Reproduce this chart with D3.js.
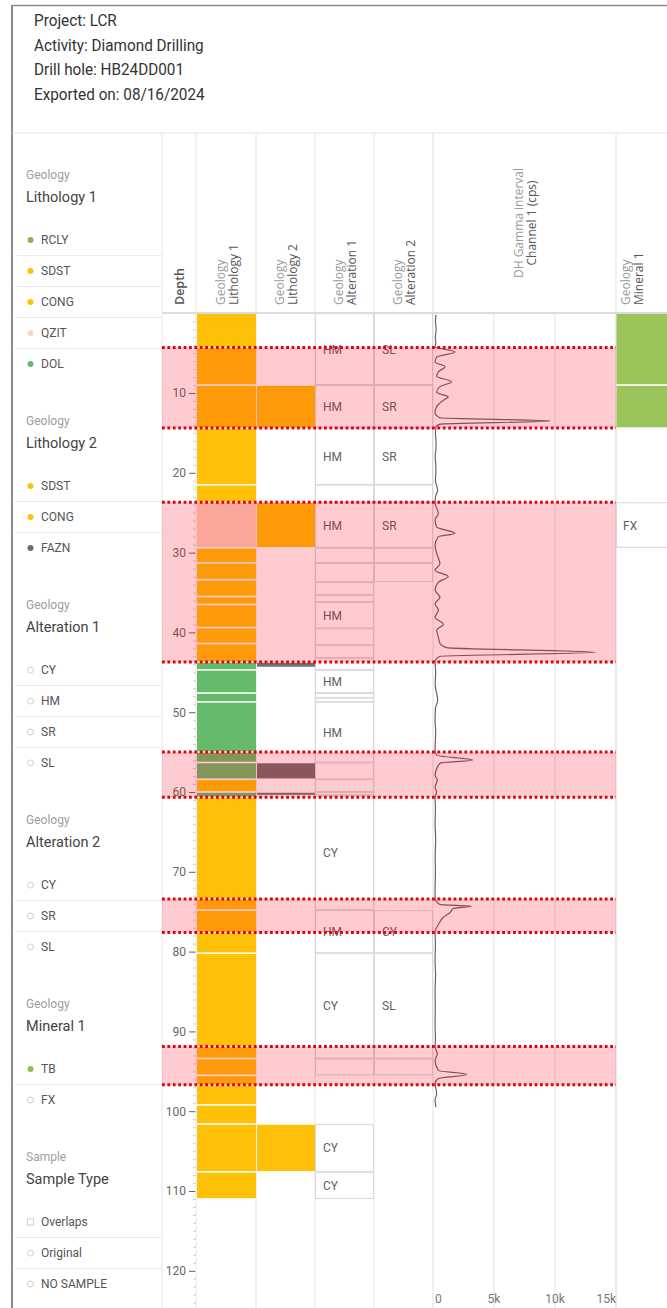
<!DOCTYPE html>
<html>
<head>
<meta charset="utf-8">
<script src="https://cdn.jsdelivr.net/npm/d3@7"></script>
<style>
html, body { margin: 0; padding: 0; background: #fff; }
svg { display: block; font-family: Roboto, "Noto Sans", sans-serif; }
</style>
</head>
<body>
<svg id="chart" width="667" height="1308"></svg>
<script>
// ---- report header ----
const headerLines = ["Project: LCR", "Activity: Diamond Drilling", "Drill hole: HB24DD001", "Exported on: 08/16/2024"];

// ---- column titles (category, name) ----
const columnKeys = ["depth", "lith1", "lith2", "alt1", "alt2", "gamma", "min1"];
const columnCategory = ["", "Geology", "Geology", "Geology", "Geology", "DH Gamma interval", "Geology"];
const columnName = ["Depth", "Lithology 1", "Lithology 2", "Alteration 1", "Alteration 2", "Channel 1 (cps)", "Mineral 1"];

// ---- code colours ----
const lithCodes = ["RCLY", "SDST", "CONG", "QZIT", "DOL", "FAZN"];
const lithColors = ["#a3a858", "#ffc107", "#ffc107", "#f9cfb8", "#66bb6a", "#6e6e6e"];
const mineralCodes = ["TB", "FX"];
const mineralColors = ["#9bc45a", null];

// ---- interval logs: [from m, to m, code] ----
const lith1 = [
  [0, 4.3, "SDST"], [4.3, 9.0, "SDST"], [9.0, 14.4, "SDST"], [14.4, 21.5, "SDST"],
  [21.5, 23.7, "SDST"], [23.7, 29.4, "QZIT"], [29.4, 31.3, "SDST"], [31.3, 33.4, "SDST"],
  [33.4, 35.5, "SDST"], [35.5, 36.5, "SDST"], [36.5, 39.4, "SDST"], [39.4, 41.4, "SDST"],
  [41.4, 43.7, "SDST"], [43.7, 44.7, "DOL"], [44.7, 47.6, "DOL"], [47.6, 48.7, "DOL"],
  [48.7, 55.0, "DOL"], [55.0, 56.3, "DOL"], [56.3, 58.4, "DOL"], [58.4, 60.0, "SDST"],
  [60.0, 60.65, "DOL"], [60.65, 73.4, "SDST"], [73.4, 74.8, "SDST"], [74.8, 77.6, "SDST"],
  [77.6, 80.2, "SDST"], [80.2, 91.9, "SDST"], [91.9, 93.4, "SDST"], [93.4, 95.5, "SDST"],
  [95.5, 96.7, "SDST"], [96.7, 99.2, "SDST"], [99.2, 101.6, "SDST"], [101.6, 107.6, "SDST"],
  [107.6, 111.0, "SDST"]
];
const lith2 = [
  [9.0, 14.4, "SDST"], [23.7, 29.4, "SDST"], [43.7, 44.4, "FAZN"],
  [56.3, 58.4, "FAZN"], [60.0, 60.45, "FAZN"], [101.6, 107.6, "SDST"]
];
const alt1 = [
  [0, 9.0, "HM"], [9.0, 14.4, "HM"], [14.4, 21.5, "HM"], [21.5, 23.7, ""],
  [23.7, 29.4, "HM"], [29.4, 31.3, ""], [31.3, 33.7, ""], [33.7, 35.3, ""],
  [35.3, 36.2, ""], [36.2, 39.5, "HM"], [39.5, 41.6, ""], [41.6, 43.2, ""],
  [43.2, 44.7, ""], [44.7, 47.6, "HM"], [47.6, 48.2, ""], [48.2, 48.7, ""],
  [48.7, 56.3, "HM"], [56.3, 58.4, ""], [58.4, 60.0, ""], [60.0, 60.4, ""],
  [60.4, 74.8, "CY"], [74.8, 80.2, "HM"], [80.2, 93.4, "CY"], [93.4, 95.5, ""],
  [101.6, 107.6, "CY"], [107.6, 111.0, "CY"]
];
const alt2 = [
  [0, 9.0, "SL"], [9.0, 14.4, "SR"], [14.4, 21.5, "SR"], [21.5, 23.7, ""],
  [23.7, 29.4, "SR"], [29.4, 31.3, ""], [31.3, 33.7, ""],
  [74.8, 80.2, "CY"], [80.2, 93.4, "SL"], [93.4, 95.5, ""]
];
const mineral1 = [[0, 9.0, "TB"], [9.0, 14.4, "TB"], [23.7, 29.4, "FX"]];

// ---- highlighted gamma anomaly intervals [from, to] ----
const anomalies = [[4.3, 14.4], [23.7, 43.7], [55.0, 60.65], [73.4, 77.6], [91.9, 96.7]];

// ---- downhole gamma, channel 1 ----
const gammaDepth = [0.2, 1.0, 2.0, 3.0, 3.8, 4.2, 4.85, 5.5, 6.1, 6.7, 7.35, 7.9, 8.6, 9.2, 9.9, 10.5, 10.9, 11.7, 12.5, 13.1, 13.5, 13.9, 14.25,
  15.0, 16.5, 18.0, 19.5, 21.0, 22.2, 23.0, 23.8, 25.1, 25.9, 26.8, 27.6, 28.0, 29.1, 30.1, 31.4, 32.2, 33.0, 33.7, 34.7, 35.6, 36.4, 37.2,
  38.1, 39.0, 39.7, 40.6, 41.4, 41.9, 42.5, 43.0, 43.7, 45.0, 46.5, 48.5, 49.5, 51.0, 52.5, 54.0, 54.8, 55.4, 56.0, 56.4, 57.1, 57.9,
  58.5, 59.4, 60.0, 60.6, 62.0, 64.0, 66.0, 68.0, 70.0, 72.0, 73.3, 74.1, 74.3, 74.6, 75.1, 75.7, 76.6, 77.5, 79.0, 81.0, 83.0, 85.0,
  87.0, 89.0, 91.0, 91.9, 92.8, 93.6, 94.9, 95.4, 95.9, 96.5, 97.8, 98.6, 99.5];
const gammaCps = [240, 200, 260, 190, 230, 170, 1800, 300, 170, 980, 440, 300, 1530, 570, 300, 1250, 850, 300, 170, 570, 9600, 570, 250,
  200, 260, 180, 240, 200, 380, 200, 170, 440, 170, 300, 1800, 440, 170, 300, 570, 170, 1250, 440, 170, 570, 170, 440,
  170, 850, 300, 440, 570, 1100, 13300, 570, 170, 220, 180, 380, 200, 170, 220, 180, 170, 300, 3250, 570, 300, 170,
  350, 170, 300, 170, 200, 170, 220, 180, 200, 170, 170, 570, 3170, 1670, 1400, 850, 440, 170, 200, 170, 210, 170,
  190, 170, 200, 170, 350, 170, 440, 2760, 440, 170, 300, 170, 250];
const gammaTicks = [0, 5000, 10000, 15000];

// ---- legend ----
const legendCategory = ["Geology", "Geology", "Geology", "Geology", "Geology", "Sample"];
const legendTitle = ["Lithology 1", "Lithology 2", "Alteration 1", "Alteration 2", "Mineral 1", "Sample Type"];
const legendItems = [
  ["RCLY", "SDST", "CONG", "QZIT", "DOL"],
  ["SDST", "CONG", "FAZN"],
  ["CY", "HM", "SR", "SL"],
  ["CY", "SR", "SL"],
  ["TB", "FX"],
  ["Overlaps", "Original", "NO SAMPLE"]
];
const legendColors = [
  ["#a3a858", "#ffc107", "#ffc107", "#f9d5c3", "#66bb6a"],
  ["#ffc107", "#ffc107", "#6e6e6e"],
  [null, null, null, null],
  [null, null, null],
  ["#8bc34a", null],
  ["square", null, null]
];

// ===================== drawing =====================
const svg = d3.select("#chart");
const W = 667, H = 1308;

const cols = {
  depth: [162, 196], lith1: [196, 256], lith2: [256, 315], alt1: [315, 374],
  alt2: [374, 433], gamma: [433, 616], min1: [616, 720]
};
const headTop = 133, headBottom = 313;

const y = d3.scaleLinear().domain([0, 125]).range([313.2, 313.2 + 125 * 7.98]);
const x = d3.scaleLinear().domain([0, 15000]).range([433, 616]);
const lithColor = d3.scaleOrdinal().domain(lithCodes).range(lithColors);
const minColor = d3.scaleOrdinal().domain(mineralCodes).range(mineralColors);

// report header text
const hdr = svg.append("g").attr("transform", "translate(34,0) scale(0.9,1)");
hdr.selectAll("text").data(headerLines).join("text")
  .attr("x", 0).attr("y", (d, i) => 26 + i * 24.6)
  .attr("font-size", 17).attr("fill", "#333").text(d => d);

// frame lines
svg.append("line").attr("x1", 12).attr("x2", W).attr("y1", 5.5).attr("y2", 5.5)
  .attr("stroke", "#8a8a8a").attr("stroke-width", 1.6);
svg.append("line").attr("x1", 12).attr("x2", 12).attr("y1", 5).attr("y2", H)
  .attr("stroke", "#8a8a8a").attr("stroke-width", 2);
svg.append("line").attr("x1", 12).attr("x2", W).attr("y1", headTop).attr("y2", headTop)
  .attr("stroke", "#e3e3e3").attr("stroke-width", 1);

// column separators
const sepX = [162, 196, 256, 315, 374, 616];
svg.append("g").selectAll("line").data(sepX).join("line")
  .attr("x1", d => d).attr("x2", d => d).attr("y1", headTop).attr("y2", H)
  .attr("stroke", "#e6e6e6").attr("stroke-width", 1);

// gamma gridlines
svg.append("g").selectAll("line").data(gammaTicks).join("line")
  .attr("x1", d => x(d)).attr("x2", d => x(d))
  .attr("y1", d => d === 0 ? headTop : headBottom).attr("y2", H)
  .attr("stroke", "#e6e6e6").attr("stroke-width", 1.2);

// header bottom rule
svg.append("line").attr("x1", 162).attr("x2", W).attr("y1", headBottom).attr("y2", headBottom)
  .attr("stroke", "#dcdcdc").attr("stroke-width", 2);

// column headers (rotated)
const headG = svg.append("g").attr("font-family", "'Open Sans', 'DejaVu Sans', sans-serif");
columnKeys.forEach((k, i) => {
  const [a, b] = cols[k];
  const cx = k === "min1" ? 631 : (a + b) / 2;
  const isGamma = k === "gamma";
  const yPos = isGamma ? (headTop + headBottom) / 2 : 305;
  const anchor = isGamma ? "middle" : "start";
  if (columnCategory[i]) {
    headG.append("text")
      .attr("transform", `translate(${cx - 1.5},${yPos}) rotate(-90)`)
      .attr("text-anchor", anchor).attr("font-size", 12).attr("fill", "#9a9a9a")
      .text(columnCategory[i]);
    headG.append("text")
      .attr("transform", `translate(${cx + 11.5},${yPos}) rotate(-90)`)
      .attr("text-anchor", anchor).attr("font-size", 12).attr("fill", "#555")
      .text(columnName[i]);
  } else {
    headG.append("text")
      .attr("transform", `translate(${cx + 4.5},${yPos}) rotate(-90)`)
      .attr("text-anchor", anchor).attr("font-size", 12.5).attr("font-weight", 600).attr("fill", "#555")
      .text(columnName[i]);
  }
});

// interval bars
function bars(data, col, colorFn) {
  const [a, b] = cols[col];
  svg.append("g").selectAll("rect").data(data).join("rect")
    .attr("x", a + 1).attr("width", b - a - 1)
    .attr("y", d => y(d[0]) + 0.8)
    .attr("height", d => Math.max(0.5, y(d[1]) - y(d[0]) - 1.6))
    .attr("fill", d => colorFn(d[2]));
}
bars(lith1, "lith1", lithColor);
bars(lith2, "lith2", lithColor);

// alteration cells with labels
function cells(data, col) {
  const [a, b] = cols[col];
  const g = svg.append("g");
  g.selectAll("rect").data(data).join("rect")
    .attr("x", a + 0.5).attr("width", b - a - 1)
    .attr("y", d => y(d[0]) + 0.5).attr("height", d => y(d[1]) - y(d[0]) - 1)
    .attr("fill", "#fff").attr("stroke", "#d9d9d9").attr("stroke-width", 1);
  g.selectAll("text").data(data.filter(d => d[2])).join("text")
    .attr("x", a + 8).attr("y", d => (y(d[0]) + y(d[1])) / 2 + 4.5)
    .attr("font-size", 12).attr("fill", "#616161").text(d => d[2]);
}
cells(alt1, "alt1");
cells(alt2, "alt2");

// depth axis: minor and major ticks
const minor = d3.axisLeft(y).tickValues(d3.range(1, 125, 1)).tickSize(3).tickFormat("");
svg.append("g").attr("transform", "translate(196,0)").call(minor)
  .call(g => g.select(".domain").remove())
  .call(g => g.selectAll("line").attr("stroke", "#cfcfcf"));
const major = d3.axisLeft(y).tickValues(d3.range(10, 121, 10)).tickSize(6).tickPadding(3);
svg.append("g").attr("transform", "translate(195,0)").call(major)
  .call(g => g.select(".domain").remove())
  .call(g => g.selectAll("line").attr("stroke", "#666"))
  .call(g => g.selectAll("text").attr("font-size", 12).attr("fill", "#666")
    .attr("font-family", "Roboto, sans-serif"));

// gamma curve
const gammaPts = gammaDepth.map((d, i) => [d, gammaCps[i]]);
const line = d3.line().x(d => x(d[1])).y(d => y(d[0])).curve(d3.curveMonotoneY);
svg.append("path").datum(gammaPts).attr("d", line)
  .attr("fill", "none").attr("stroke", "#666").attr("stroke-width", 1.2);

// gamma axis labels
svg.append("g").selectAll("text").data(gammaTicks).join("text")
  .attr("x", d => x(d)).attr("y", 1303)
  .attr("text-anchor", (d, i) => i === 0 ? "start" : i === gammaTicks.length - 1 ? "end" : "middle")
  .attr("dx", (d, i) => i === 0 ? 2 : 0)
  .attr("font-size", 12).attr("fill", "#777")
  .text(d => d3.format("~s")(d));

// anomaly highlight overlay
const ov = svg.append("g");
ov.selectAll("rect").data(anomalies).join("rect")
  .attr("x", 162).attr("width", 616 - 162)
  .attr("y", d => y(d[0])).attr("height", d => y(d[1]) - y(d[0]))
  .attr("fill", "rgba(250,0,20,0.2)");
const edges = anomalies.flat();
ov.selectAll("line").data(edges).join("line")
  .attr("x1", 162).attr("x2", 616).attr("y1", d => y(d)).attr("y2", d => y(d))
  .attr("stroke", "#e3000f").attr("stroke-width", 3).attr("stroke-dasharray", "2.8 2.6");

// mineral column
const [m0, m1] = cols.min1;
const mg = svg.append("g");
mg.selectAll("rect").data(mineral1).join("rect")
  .attr("x", m0 + 0.5).attr("width", m1 - m0)
  .attr("y", d => y(d[0]) + (minColor(d[2]) ? 0.8 : 0.5))
  .attr("height", d => y(d[1]) - y(d[0]) - (minColor(d[2]) ? 1.6 : 1))
  .attr("fill", d => minColor(d[2]) || "#fff")
  .attr("stroke", d => minColor(d[2]) ? "none" : "#d6d6d6");
mg.selectAll("text").data(mineral1.filter(d => !minColor(d[2]))).join("text")
  .attr("x", m0 + 7).attr("y", d => (y(d[0]) + y(d[1])) / 2 + 4.5)
  .attr("font-size", 12).attr("fill", "#616161").text(d => d[2]);

// legend panel
const lg = svg.append("g");
let gy = 175;
legendTitle.forEach((title, gi) => {
  lg.append("text").attr("x", 26).attr("y", gy + 4).attr("font-size", 12).attr("fill", "#9e9e9e")
    .text(legendCategory[gi]);
  lg.append("text").attr("x", 26).attr("y", gy + 22 + 5).attr("font-size", 14.5).attr("fill", "#444")
    .text(title);
  const items = legendItems[gi];
  items.forEach((name, ii) => {
    const iy = gy + 65 + ii * 31;
    const c = legendColors[gi][ii];
    if (c === "square") {
      lg.append("rect").attr("x", 27.5).attr("y", iy - 3).attr("width", 6).attr("height", 6)
        .attr("fill", "none").attr("stroke", "#cfcfcf");
    } else if (c) {
      lg.append("circle").attr("cx", 30.5).attr("cy", iy).attr("r", 3).attr("fill", c);
    } else {
      lg.append("circle").attr("cx", 30.5).attr("cy", iy).attr("r", 3)
        .attr("fill", "none").attr("stroke", "#d0d0d0");
    }
    lg.append("text").attr("x", 41).attr("y", iy + 4.3).attr("font-size", 12).attr("fill", "#555")
      .text(name);
    if (ii < items.length - 1) {
      lg.append("line").attr("x1", 15).attr("x2", 162).attr("y1", iy + 15.5).attr("y2", iy + 15.5)
        .attr("stroke", "#ececec");
    }
  });
  gy = gy + 65 + (items.length - 1) * 31 + 57;
});
</script>
</body>
</html>
